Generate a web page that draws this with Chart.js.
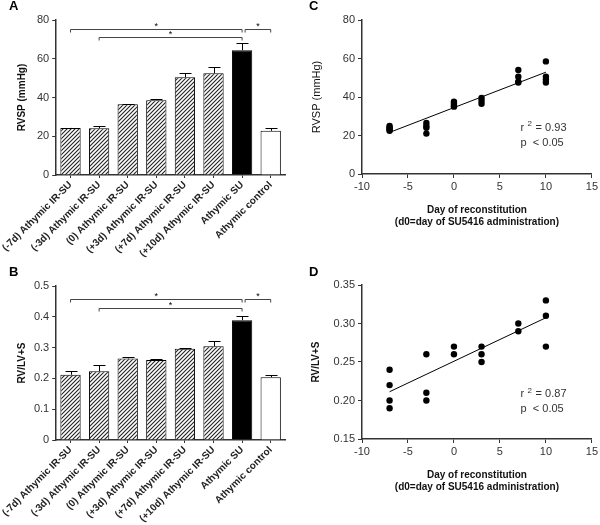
<!DOCTYPE html>
<html>

<head>
    <title>RVSP and RV/LV+S</title>
    <script src="https://cdn.jsdelivr.net/npm/chart.js"></script>
    <style>
        body { margin: 0; background: #fff; }
        .panel { position: absolute; }
    </style>
</head>

<body>
    <div class="panel" style="left:0;top:0;width:300px;height:260px"><canvas id="chartA"></canvas></div>
    <div class="panel" style="left:0;top:260px;width:300px;height:265px"><canvas id="chartB"></canvas></div>
    <div class="panel" style="left:300px;top:0;width:300px;height:260px"><canvas id="chartC"></canvas></div>
    <div class="panel" style="left:300px;top:260px;width:300px;height:265px"><canvas id="chartD"></canvas></div>
    <script>
        // bar groups
        var groups = ['(-7d) Athymic IR-SU', '(-3d) Athymic IR-SU', '(0) Athymic IR-SU', '(+3d) Athymic IR-SU',
            '(+7d) Athymic IR-SU', '(+10d) Athymic IR-SU', 'Athymic SU', 'Athymic control'];
        var rvspMean = [24.3, 24.1, 36.5, 38.6, 50.4, 52.5, 64.4, 22.8];
        var rvspErr = [24.5, 25.5, 36.9, 39.1, 52.4, 55.6, 68.0, 24.1];
        var ratioMean = [0.212, 0.223, 0.265, 0.260, 0.296, 0.304, 0.389, 0.204];
        var ratioErr = [0.223, 0.242, 0.268, 0.264, 0.298, 0.320, 0.402, 0.212];

        // significance brackets: from group, to group, height
        var bracketFrom = [0, 1, 6];
        var bracketTo = [6, 6, 7];
        var bracketA = [75.5, 71, 75.5];
        var bracketB = [0.458, 0.43, 0.458];

        // scatter: day of reconstitution vs value
        var daysC = [-7, -7, -7, -7, -7, -3, -3, -3, -3, 0, 0, 0, 0, 3, 3, 3, 7, 7, 7, 7, 10, 10, 10, 10];
        var rvspC = [25, 24.2, 23.5, 23, 22.5, 26.5, 25, 24, 21, 37.5, 36.5, 35.5, 35, 39.5, 38, 36.5, 54, 50.5, 48, 47.5, 58.5, 50.5, 49, 47.5];
        var daysD = [-7, -7, -7, -7, -3, -3, -3, 0, 0, 3, 3, 3, 7, 7, 10, 10, 10];
        var ratioD = [0.24, 0.22, 0.20, 0.19, 0.26, 0.21, 0.20, 0.27, 0.26, 0.27, 0.26, 0.25, 0.30, 0.29, 0.33, 0.31, 0.27];
        var fitDays = [-7, 10];
        var fitC = [21.6, 52.9];
        var fitD = [0.2114, 0.3075];
        var statsC = ['0.93', '< 0.05'];
        var statsD = ['0.87', '< 0.05'];

        var FONT = '"Liberation Sans", Arial, sans-serif';
        var INK = '#333';

        function hatch() {
            var c = document.createElement('canvas');
            c.width = 4; c.height = 4;
            var g = c.getContext('2d');
            g.fillStyle = '#fff';
            g.fillRect(0, 0, 4, 4);
            g.strokeStyle = '#222';
            g.lineWidth = 1.1;
            g.beginPath();
            g.moveTo(0, 4); g.lineTo(4, 0);
            g.moveTo(-1, 1); g.lineTo(1, -1);
            g.moveTo(3, 5); g.lineTo(5, 3);
            g.stroke();
            return g.createPattern(c, 'repeat');
        }
        var pat = hatch();
        var barFills = groups.map(function (g, i) { return i === 6 ? '#000' : (i === 7 ? '#fff' : pat); });

        // letters, error bars, brackets, r^2 text
        var extras = {
            id: 'extras',
            afterDatasetsDraw: function (chart, args, o) {
                var ctx = chart.ctx, ca = chart.chartArea;
                ctx.save();
                ctx.fillStyle = '#000';
                ctx.strokeStyle = '#000';
                ctx.lineWidth = 1;
                if (o.letter) {
                    ctx.font = 'bold 13px ' + FONT;
                    ctx.textBaseline = 'middle';
                    ctx.textAlign = 'left';
                    ctx.fillText(o.letter, 9, o.letterY);
                }
                if (o.errors) {
                    var ys = chart.scales.y;
                    chart.getDatasetMeta(0).data.forEach(function (bar, i) {
                        var top = Math.round(ys.getPixelForValue(o.errors[i])) + 0.5;
                        var bx = Math.round(bar.x) + 0.5;
                        ctx.beginPath();
                        ctx.moveTo(bx, bar.y);
                        ctx.lineTo(bx, top);
                        ctx.moveTo(bx - 6, top);
                        ctx.lineTo(bx + 6, top);
                        ctx.stroke();
                    });
                }
                if (o.brackets) {
                    var xs = chart.scales.x, yb = chart.scales.y;
                    ctx.strokeStyle = '#444';
                    ctx.font = '9px ' + FONT;
                    ctx.textAlign = 'center';
                    ctx.textBaseline = 'middle';
                    bracketFrom.forEach(function (f, i) {
                        var x1 = xs.getPixelForValue(f) + (f === 6 ? 3 : 0);
                        var x2 = xs.getPixelForValue(bracketTo[i]);
                        var y = Math.round(yb.getPixelForValue(o.brackets[i])) + 0.5;
                        ctx.beginPath();
                        ctx.moveTo(x1, y + 3); ctx.lineTo(x1, y);
                        ctx.lineTo(x2, y); ctx.lineTo(x2, y + 3);
                        ctx.stroke();
                        ctx.fillText('*', (x1 + x2) / 2, y - 3);
                    });
                }
                if (o.stats) {
                    var tx = ca.left + 0.69 * (ca.right - ca.left);
                    var ty = ca.top + o.statsY * (ca.bottom - ca.top);
                    ctx.fillStyle = INK;
                    ctx.textAlign = 'left';
                    ctx.textBaseline = 'middle';
                    ctx.font = '11px ' + FONT;
                    ctx.fillText('r', tx, ty);
                    ctx.font = '8px ' + FONT;
                    ctx.fillText('2', tx + 7, ty - 4);
                    ctx.font = '11px ' + FONT;
                    ctx.fillText('= ' + o.stats[0], tx + 15, ty);
                    ctx.fillText('p  ' + o.stats[1], tx, ty + 15);
                }
                ctx.restore();
            }
        };

        function barChart(id, mean, err, brackets, yTitle, yMax, step, fmt, padTop, letter, letterY) {
            var canvas = document.getElementById(id);
            return new Chart(canvas, {
                type: 'bar',
                data: {
                    labels: groups,
                    datasets: [{
                        data: mean,
                        backgroundColor: barFills,
                        borderColor: '#000',
                        borderWidth: 1,
                        categoryPercentage: 1,
                        barPercentage: 0.71
                    }]
                },
                options: {
                    responsive: true,
                    maintainAspectRatio: false,
                    animation: false,
                    devicePixelRatio: 1,
                    layout: { padding: { top: padTop, right: 15, left: 0, bottom: 0 } },
                    plugins: {
                        legend: { display: false },
                        tooltip: { enabled: false },
                        extras: { letter: letter, letterY: letterY, errors: err, brackets: brackets }
                    },
                    scales: {
                        x: {
                            grid: { offset: false, drawOnChartArea: false, drawTicks: true, tickLength: 3, color: '#333' },
                            border: { display: true, color: '#333', width: 1.5 },
                            ticks: {
                                autoSkip: false, minRotation: 45, maxRotation: 45, padding: 1,
                                color: '#222', font: { family: FONT, size: 10, weight: 'bold' }
                            },
                            afterFit: function (s) { s.height = 85; }
                        },
                        y: {
                            min: 0, max: yMax,
                            grid: { drawOnChartArea: false, drawTicks: true, tickLength: 4, color: '#333' },
                            border: { display: true, color: '#333', width: 1.5 },
                            ticks: { stepSize: step, color: INK, padding: 3, font: { family: FONT, size: 11 }, callback: fmt },
                            title: { display: true, text: yTitle, color: '#111', padding: { top: 10, bottom: 0 }, font: { family: FONT, size: 10, weight: 'bold' } },
                            afterFit: function (s) { s.width = 50; }
                        }
                    }
                },
                plugins: [extras]
            });
        }

        function scatterChart(id, days, vals, fit, stats, yTitle, yBold, yMin, yMax, step, fmt, padTop, letter, letterY, statsY) {
            var canvas = document.getElementById(id);
            return new Chart(canvas, {
                type: 'scatter',
                data: {
                    datasets: [{
                        data: days.map(function (d, i) { return { x: d, y: vals[i] }; }),
                        pointRadius: 3.2,
                        pointBackgroundColor: '#000',
                        pointBorderWidth: 0
                    }, {
                        data: fitDays.map(function (d, i) { return { x: d, y: fit[i] }; }),
                        showLine: true,
                        pointRadius: 0,
                        borderColor: '#000',
                        borderWidth: 1
                    }]
                },
                options: {
                    responsive: true,
                    maintainAspectRatio: false,
                    animation: false,
                    devicePixelRatio: 1,
                    layout: { padding: { top: padTop, right: 5, left: 0, bottom: 0 } },
                    plugins: {
                        legend: { display: false },
                        tooltip: { enabled: false },
                        extras: { letter: letter, letterY: letterY, stats: stats, statsY: statsY }
                    },
                    scales: {
                        x: {
                            type: 'linear', min: -10, max: 15,
                            grid: { drawOnChartArea: false, drawTicks: true, tickLength: 4, color: '#333' },
                            border: { display: true, color: '#333', width: 1.5 },
                            ticks: { stepSize: 5, color: INK, padding: 2, font: { family: FONT, size: 11 } },
                            title: {
                                display: true,
                                text: ['Day of reconstitution', '(d0=day of SU5416 administration)'],
                                color: '#111',
                                padding: { top: 0, bottom: 32 },
                                font: { family: FONT, size: 10, weight: 'bold', lineHeight: 1.2 }
                            },
                            afterFit: function (s) { s.height = 86; }
                        },
                        y: {
                            min: yMin, max: yMax,
                            grid: { drawOnChartArea: false, drawTicks: true, tickLength: 4, color: '#333' },
                            border: { display: true, color: '#333', width: 1.5 },
                            ticks: { stepSize: step, color: INK, padding: 3, font: { family: FONT, size: 11 }, callback: fmt },
                            title: { display: true, text: yTitle, color: '#111', padding: { top: 10, bottom: 0 }, font: { family: FONT, size: yBold ? 10 : 11, weight: yBold ? 'bold' : 'normal' } },
                            afterFit: function (s) { s.width = 62; }
                        }
                    }
                },
                plugins: [extras]
            });
        }

        barChart('chartA', rvspMean, rvspErr, bracketA, 'RVSP (mmHg)', 80, 20, function (v) { return v; }, 20, 'A', 6);
        barChart('chartB', ratioMean, ratioErr, bracketB, 'RV/LV+S', 0.5, 0.1, function (v) { return v === 0 ? '0' : v.toFixed(1); }, 26, 'B', 12);
        scatterChart('chartC', daysC, rvspC, fitC, statsC, 'RVSP (mmHg)', false, 0, 80, 20, function (v) { return v; }, 20, 'C', 6, 0.70);
        scatterChart('chartD', daysD, ratioD, fitD, statsD, 'RV/LV+S', true, 0.15, 0.35, 0.05, function (v) { return v.toFixed(2); }, 25, 'D', 12, 0.71);
    </script>
</body>

</html>
